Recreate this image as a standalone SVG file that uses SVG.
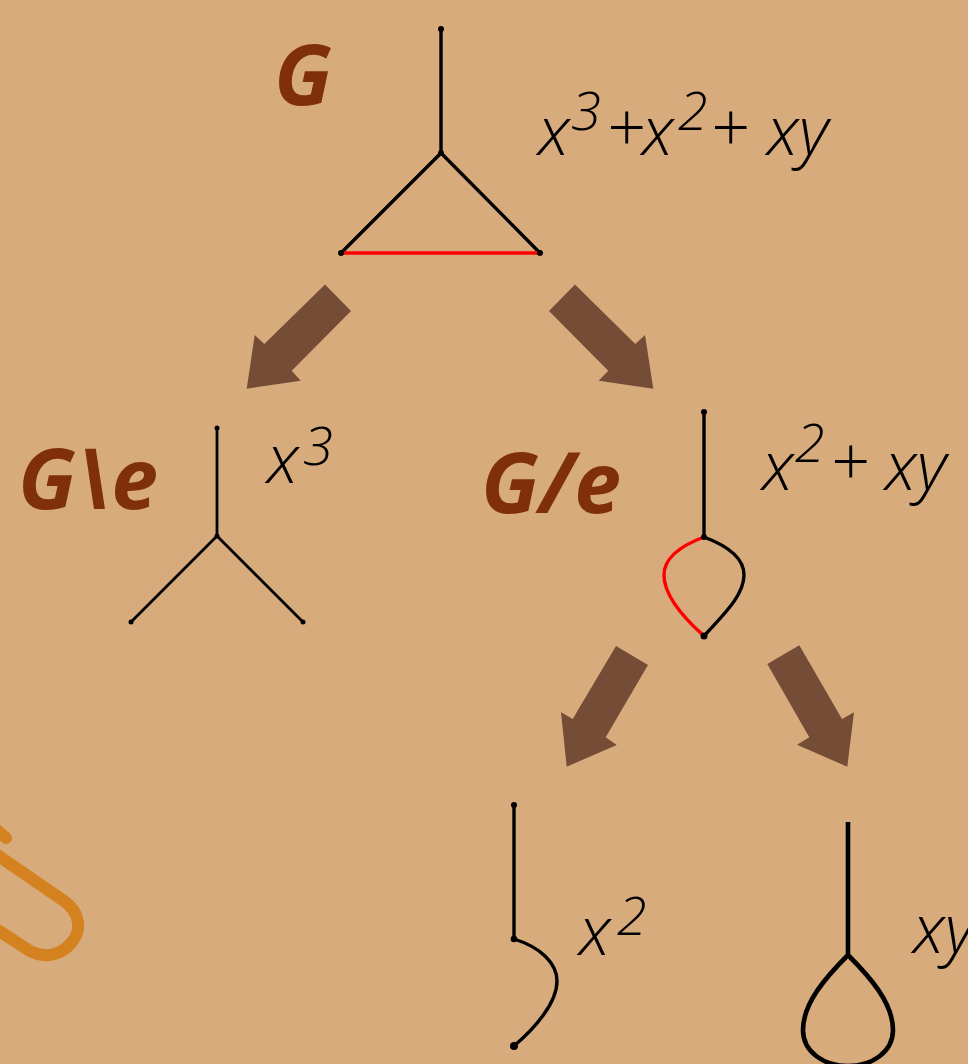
<svg xmlns="http://www.w3.org/2000/svg" width="968" height="1064" viewBox="0 0 968 1064">
<style>
.e{fill:none;stroke:#000;stroke-width:3.4;stroke-linecap:round;stroke-linejoin:round}
.r{fill:none;stroke:#f00;stroke-width:3.4}
.v{fill:#000}
.a{fill:#754c36}
.t{font-family:"Open Sans",sans-serif;font-style:italic;font-weight:700;fill:#7f2f0c;font-size:84px}
.m{font-family:"Open Sans",sans-serif;font-style:italic;font-weight:300;fill:#000;font-size:68px}
.s{font-size:54px}
</style>
<rect width="968" height="1064" fill="#d8ab7c"/>
<g id="connectors">
<polygon class="a" points="325,284.5 351,311 291.7,370.7 300.7,380.7 246.7,388.7 254.7,335 264.3,344"/>
<polygon class="a" points="575,284.5 549,311 608.3,370.7 598.7,380.7 653.3,388.7 645,335 635.3,344"/>
<polygon class="a" points="616,646 648,665 605.7,737.3 616.7,745 566.7,766.7 561,712.3 572.7,719"/>
<polygon class="a" points="799.3,645.3 767.3,664 809.3,737.3 797,744.7 847.3,766.7 854,712.3 842,719"/>
</g>
<g id="node-g">
<text class="t" x="274" y="105">G</text>
<path class="e" d="M441 29V153L341 253M441 153L540 253"/>
<path class="r" d="M341 253H540"/>
<circle class="v" cx="441" cy="29" r="3"/><circle class="v" cx="441" cy="153" r="3"/><circle class="v" cx="341" cy="253" r="3"/><circle class="v" cx="540" cy="253" r="3"/>
<text class="m" x="538" y="155">x</text><text class="m s" x="571" y="130">3</text><text class="m" x="606" y="152" font-style="normal">+</text><text class="m" x="642" y="155">x</text><text class="m s" x="678" y="130">2</text><text class="m" x="710" y="152">+</text><text class="m" x="767" y="155">xy</text>
</g>
<g id="node-del">
<text class="t" x="18" y="509">G\e</text>
<path class="e" d="M217 428V536L131 622M217 536L303 622" style="stroke-width:2.8"/>
<circle class="v" cx="217" cy="428" r="2.5"/><circle class="v" cx="217" cy="536" r="2.5"/><circle class="v" cx="131" cy="622" r="2.5"/><circle class="v" cx="303" cy="622" r="2.5"/>
<text class="m" x="267" y="483">x</text><text class="m s" x="303" y="465">3</text>
</g>
<g id="node-con">
<text class="t" x="481" y="513">G/e</text>
<path class="e" d="M704 412V537C728 546 744 558 744 575C744 596 722 616 704 636"/>
<path class="r" d="M704 537C680 546 664 558 664 575C664 596 686 620 704 636"/>
<circle class="v" cx="704" cy="412" r="3"/><circle class="v" cx="704" cy="537" r="3"/><circle class="v" cx="704" cy="636" r="3.5"/>
<text class="m" x="762" y="490">x</text><text class="m s" x="795" y="462">2</text><text class="m" x="830" y="486">+</text><text class="m" x="885" y="490">xy</text>
</g>
<g id="node-x2">
<path class="e" d="M514 805V939C540 947 557 963 557 981C557 1003 535 1028 514 1046"/>
<circle class="v" cx="514" cy="805" r="3"/><circle class="v" cx="514" cy="939" r="3.3"/><circle class="v" cx="514" cy="1046" r="4"/>
<text class="m" x="579" y="955">x</text><text class="m s" x="617" y="935">2</text>
</g>
<g id="node-xy">
<path class="e" d="M848 822V955C826 977 803 1003 803 1030C803 1052 824 1066 848 1066C872 1066 893 1052 893 1030C893 1003 870 977 848 955" style="stroke-width:4.6;stroke-linecap:butt"/>
<text class="m" x="913" y="953">xy</text>
</g>
<g id="clip-decoration">
<path d="M-10 824L6 838M-10 850L64 901C80 912 82 930 72 942C62 955 45 959 30 951L-10 925" fill="none" stroke="#d4821f" stroke-width="12" stroke-linecap="round"/>
</g>
</svg>
